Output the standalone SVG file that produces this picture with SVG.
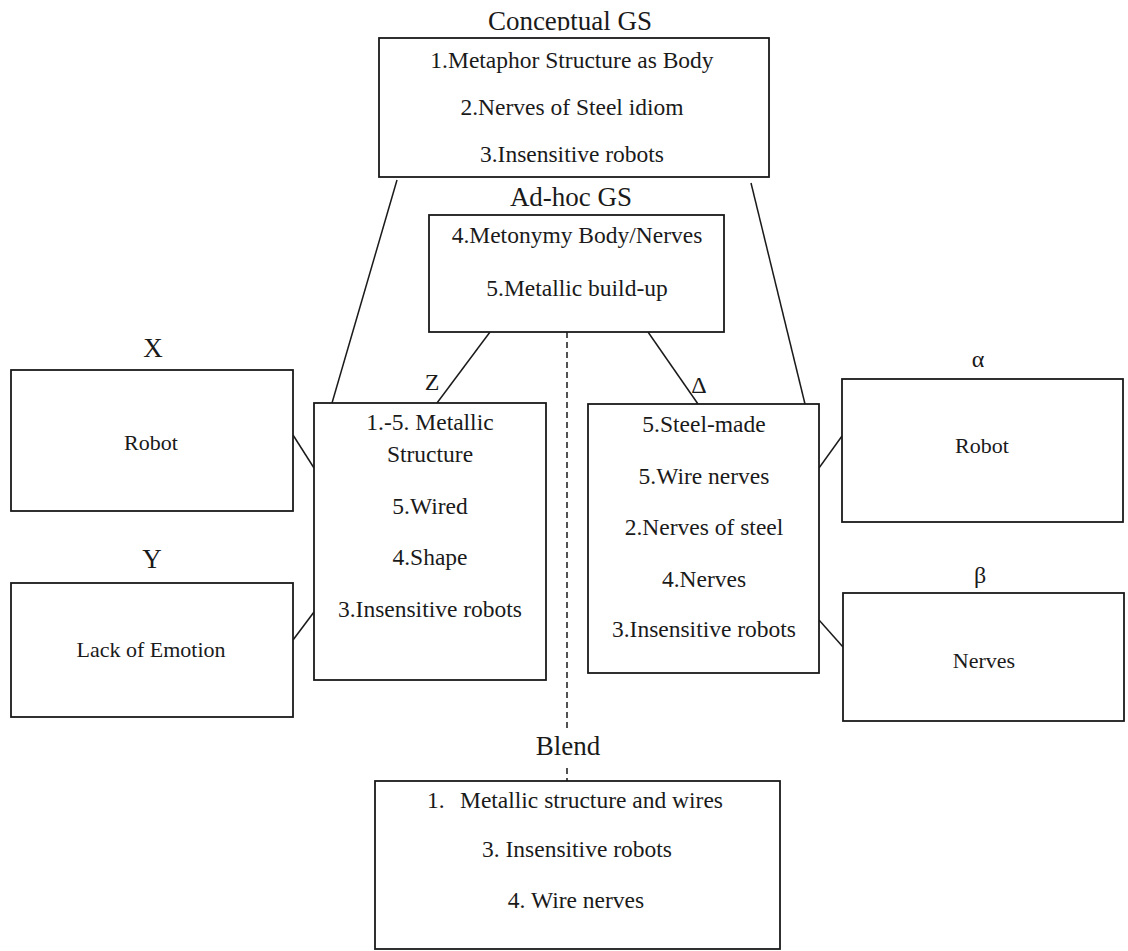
<svg xmlns="http://www.w3.org/2000/svg" width="1128" height="951" viewBox="0 0 1128 951">
  <style>
    text { font-family: 'Liberation Serif', serif; fill: #1a1a1a; text-anchor: middle; }
    .title { font-size: 27px; }
    .lbl { font-size: 24px; }
    .body { font-size: 23.5px; }
    .side { font-size: 22px; }
    .box { fill: #ffffff; stroke: #1a1a1a; stroke-width: 1.8; }
    .link { stroke: #1a1a1a; stroke-width: 1.5; fill: none; }
    .dash { stroke: #1a1a1a; stroke-width: 1.5; stroke-dasharray: 6 4; fill: none; }
  </style>
  <defs>
    <!-- the heading sits against the top edge, so its descenders are cut off -->
    <clipPath id="topClip"><rect x="0" y="0" width="1128" height="30.5"/></clipPath>
  </defs>
  <rect width="1128" height="951" fill="#ffffff"/>

  <!-- connectors -->
  <g id="connectors">
    <line class="link" x1="397" y1="180" x2="332" y2="403"/>
    <line class="link" x1="751" y1="183" x2="805" y2="404"/>
    <line class="link" x1="490" y1="332" x2="437" y2="403"/>
    <line class="link" x1="648" y1="332" x2="698" y2="404"/>
    <line class="link" x1="293" y1="435" x2="314" y2="468"/>
    <line class="link" x1="293" y1="640" x2="314" y2="612"/>
    <line class="link" x1="819" y1="468" x2="842" y2="436"/>
    <line class="link" x1="819" y1="620" x2="843" y2="647"/>
    <line class="dash" x1="567" y1="332" x2="567" y2="728"/>
    <line class="dash" x1="567" y1="768" x2="567" y2="781"/>
  </g>

  <!-- Conceptual generic space -->
  <g id="conceptual">
    <text class="title" x="570" y="30" clip-path="url(#topClip)">Conceptual GS</text>
    <rect class="box" x="379" y="38" width="390" height="139"/>
    <text class="body" x="572" y="68">1.Metaphor Structure as Body</text>
    <text class="body" x="572" y="115">2.Nerves of Steel idiom</text>
    <text class="body" x="572" y="162">3.Insensitive robots</text>
  </g>

  <!-- Ad-hoc generic space -->
  <g id="adhoc">
    <text class="title" x="571" y="206">Ad-hoc GS</text>
    <rect class="box" x="429" y="215" width="295" height="117"/>
    <text class="body" x="577" y="243">4.Metonymy Body/Nerves</text>
    <text class="body" x="577" y="296">5.Metallic build-up</text>
  </g>

  <!-- Input X -->
  <g id="inputX">
    <text class="title" x="153" y="357">X</text>
    <rect class="box" x="11" y="370" width="282" height="141"/>
    <text class="side" x="151" y="450">Robot</text>
  </g>

  <!-- Input Y -->
  <g id="inputY">
    <text class="title" x="152" y="568">Y</text>
    <rect class="box" x="11" y="583" width="282" height="134"/>
    <text class="side" x="151" y="657">Lack of Emotion</text>
  </g>

  <!-- Space Z -->
  <g id="spaceZ">
    <text class="lbl" x="432" y="390">Z</text>
    <rect class="box" x="314" y="403" width="232" height="277"/>
    <text class="body" x="430" y="430">1.-5. Metallic</text>
    <text class="body" x="430" y="462">Structure</text>
    <text class="body" x="430" y="514">5.Wired</text>
    <text class="body" x="430" y="565">4.Shape</text>
    <text class="body" x="430" y="617">3.Insensitive robots</text>
  </g>

  <!-- Space Delta -->
  <g id="spaceDelta">
    <text class="lbl" x="699" y="393">Δ</text>
    <rect class="box" x="588" y="404" width="231" height="269"/>
    <text class="body" x="704" y="432">5.Steel-made</text>
    <text class="body" x="704" y="484">5.Wire nerves</text>
    <text class="body" x="704" y="535">2.Nerves of steel</text>
    <text class="body" x="704" y="587">4.Nerves</text>
    <text class="body" x="704" y="637">3.Insensitive robots</text>
  </g>

  <!-- Input alpha -->
  <g id="inputAlpha">
    <text class="lbl" x="978" y="367">α</text>
    <rect class="box" x="842" y="379" width="281" height="143"/>
    <text class="side" x="982" y="453">Robot</text>
  </g>

  <!-- Input beta -->
  <g id="inputBeta">
    <text class="lbl" x="980" y="583">β</text>
    <rect class="box" x="843" y="593" width="281" height="128"/>
    <text class="side" x="984" y="668">Nerves</text>
  </g>

  <!-- Blend -->
  <g id="blend">
    <text class="title" x="568" y="755">Blend</text>
    <rect class="box" x="375" y="781" width="405" height="168"/>
    <text class="body" x="427" y="808" style="text-anchor:start">1.</text>
    <text class="body" x="460" y="808" style="text-anchor:start">Metallic structure and wires</text>
    <text class="body" x="577" y="857">3. Insensitive robots</text>
    <text class="body" x="576" y="908">4. Wire nerves</text>
  </g>
</svg>
